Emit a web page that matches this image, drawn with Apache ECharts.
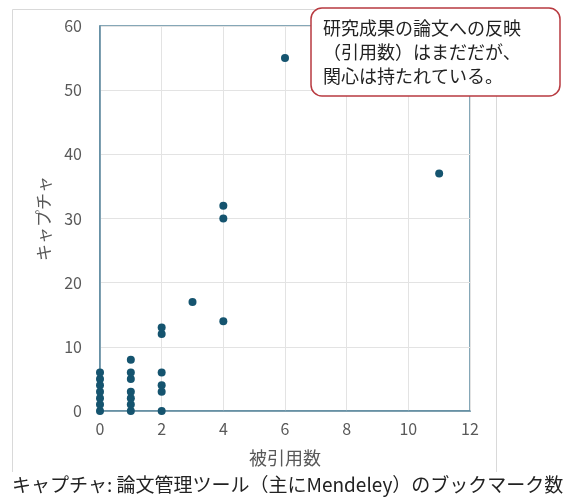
<!DOCTYPE html>
<html>
<head>
<meta charset="utf-8">
<script src="https://cdn.jsdelivr.net/npm/echarts@6/dist/echarts.min.js"></script>
<style>
  html, body { margin: 0; padding: 0; background: #fff; }
  #chart { width: 569px; height: 497px; }
</style>
</head>
<body>
<div id="chart"></div>
<script>
// 被引用数 (x) と キャプチャ数 (y) の組
const citations = [0, 0, 0, 0, 0, 0, 0,
                   1, 1, 1, 1, 1, 1, 1,
                   2, 2, 2, 2, 2, 2,
                   3,
                   4, 4, 4,
                   6,
                   11];
const captures  = [0, 1, 2, 3, 4, 5, 6,
                   0, 1, 2, 3, 5, 6, 8,
                   0, 3, 4, 6, 12, 13,
                   17,
                   14, 30, 32,
                   55,
                   37];

const xTicks = [0, 2, 4, 6, 8, 10, 12];
const yTicks = [0, 10, 20, 30, 40, 50, 60];

const xTitle = '被引用数';
const yTitle = 'キャプチャ';
const calloutLines = ['研究成果の論文への反映', '（引用数）はまだだが、', '関心は持たれている。'];
const caption = 'キャプチャ: 論文管理ツール（主にMendeley）のブックマーク数';

const FONT = '"Noto Sans CJK JP", "Noto Sans", sans-serif';
const points = citations.map((c, i) => [c, captures[i]]);

const chart = echarts.init(document.getElementById('chart'), null, { renderer: 'canvas' });
chart.setOption({
  backgroundColor: '#ffffff',
  animation: false,
  grid: {
    left: 100, top: 26, width: 370, height: 385,
    show: true, borderColor: '#5e8aa0', borderWidth: 1.5,
    containLabel: false
  },
  xAxis: {
    type: 'value',
    min: xTicks[0], max: xTicks[xTicks.length - 1], interval: 2,
    name: xTitle, nameLocation: 'middle', nameGap: 38,
    nameTextStyle: { fontFamily: FONT, fontSize: 18, color: '#595959' },
    axisLine: { show: true, lineStyle: { color: '#5e8aa0', width: 1.5 } },
    axisTick: { show: false },
    axisLabel: { fontFamily: FONT, fontSize: 16, color: '#595959', margin: 10 },
    splitLine: { show: true, lineStyle: { color: '#e3e3e3', width: 1 } }
  },
  yAxis: {
    type: 'value',
    min: yTicks[0], max: yTicks[yTicks.length - 1], interval: 10,
    name: yTitle, nameLocation: 'middle', nameGap: 48, nameRotate: 90,
    nameTextStyle: { fontFamily: FONT, fontSize: 17, color: '#595959' },
    axisLine: { show: true, lineStyle: { color: '#5e8aa0', width: 1.5 } },
    axisTick: { show: false },
    axisLabel: { fontFamily: FONT, fontSize: 16, color: '#595959', margin: 18 },
    splitLine: { show: true, lineStyle: { color: '#e3e3e3', width: 1 } }
  },
  series: [{
    type: 'scatter',
    data: points,
    symbol: 'circle',
    symbolSize: 8,
    itemStyle: { color: '#15546f', opacity: 1 },
    z: 5
  }],
  graphic: [
    // outer chart frame (open at the bottom)
    {
      type: 'polyline', silent: true, z: 0,
      shape: { points: [[12.5, 472], [12.5, 9.5], [496.5, 9.5], [496.5, 472]] },
      style: { stroke: '#d9d9d9', lineWidth: 1, fill: null }
    },
    // callout box
    {
      type: 'rect', z: 100,
      shape: { x: 311, y: 8, width: 249, height: 88, r: 11 },
      style: { fill: '#ffffff', stroke: '#b83a40', lineWidth: 1.5 }
    },
    {
      type: 'text', z: 101,
      left: 323, top: 16,
      style: {
        text: calloutLines.join('\n'),
        font: '18px ' + FONT,
        fill: '#222222',
        lineHeight: 24
      }
    },
    // caption below the chart
    {
      type: 'text', z: 101,
      left: 12, top: 475,
      style: {
        text: caption,
        font: '19px ' + FONT,
        fill: '#222222'
      }
    }
  ]
});
</script>
</body>
</html>
